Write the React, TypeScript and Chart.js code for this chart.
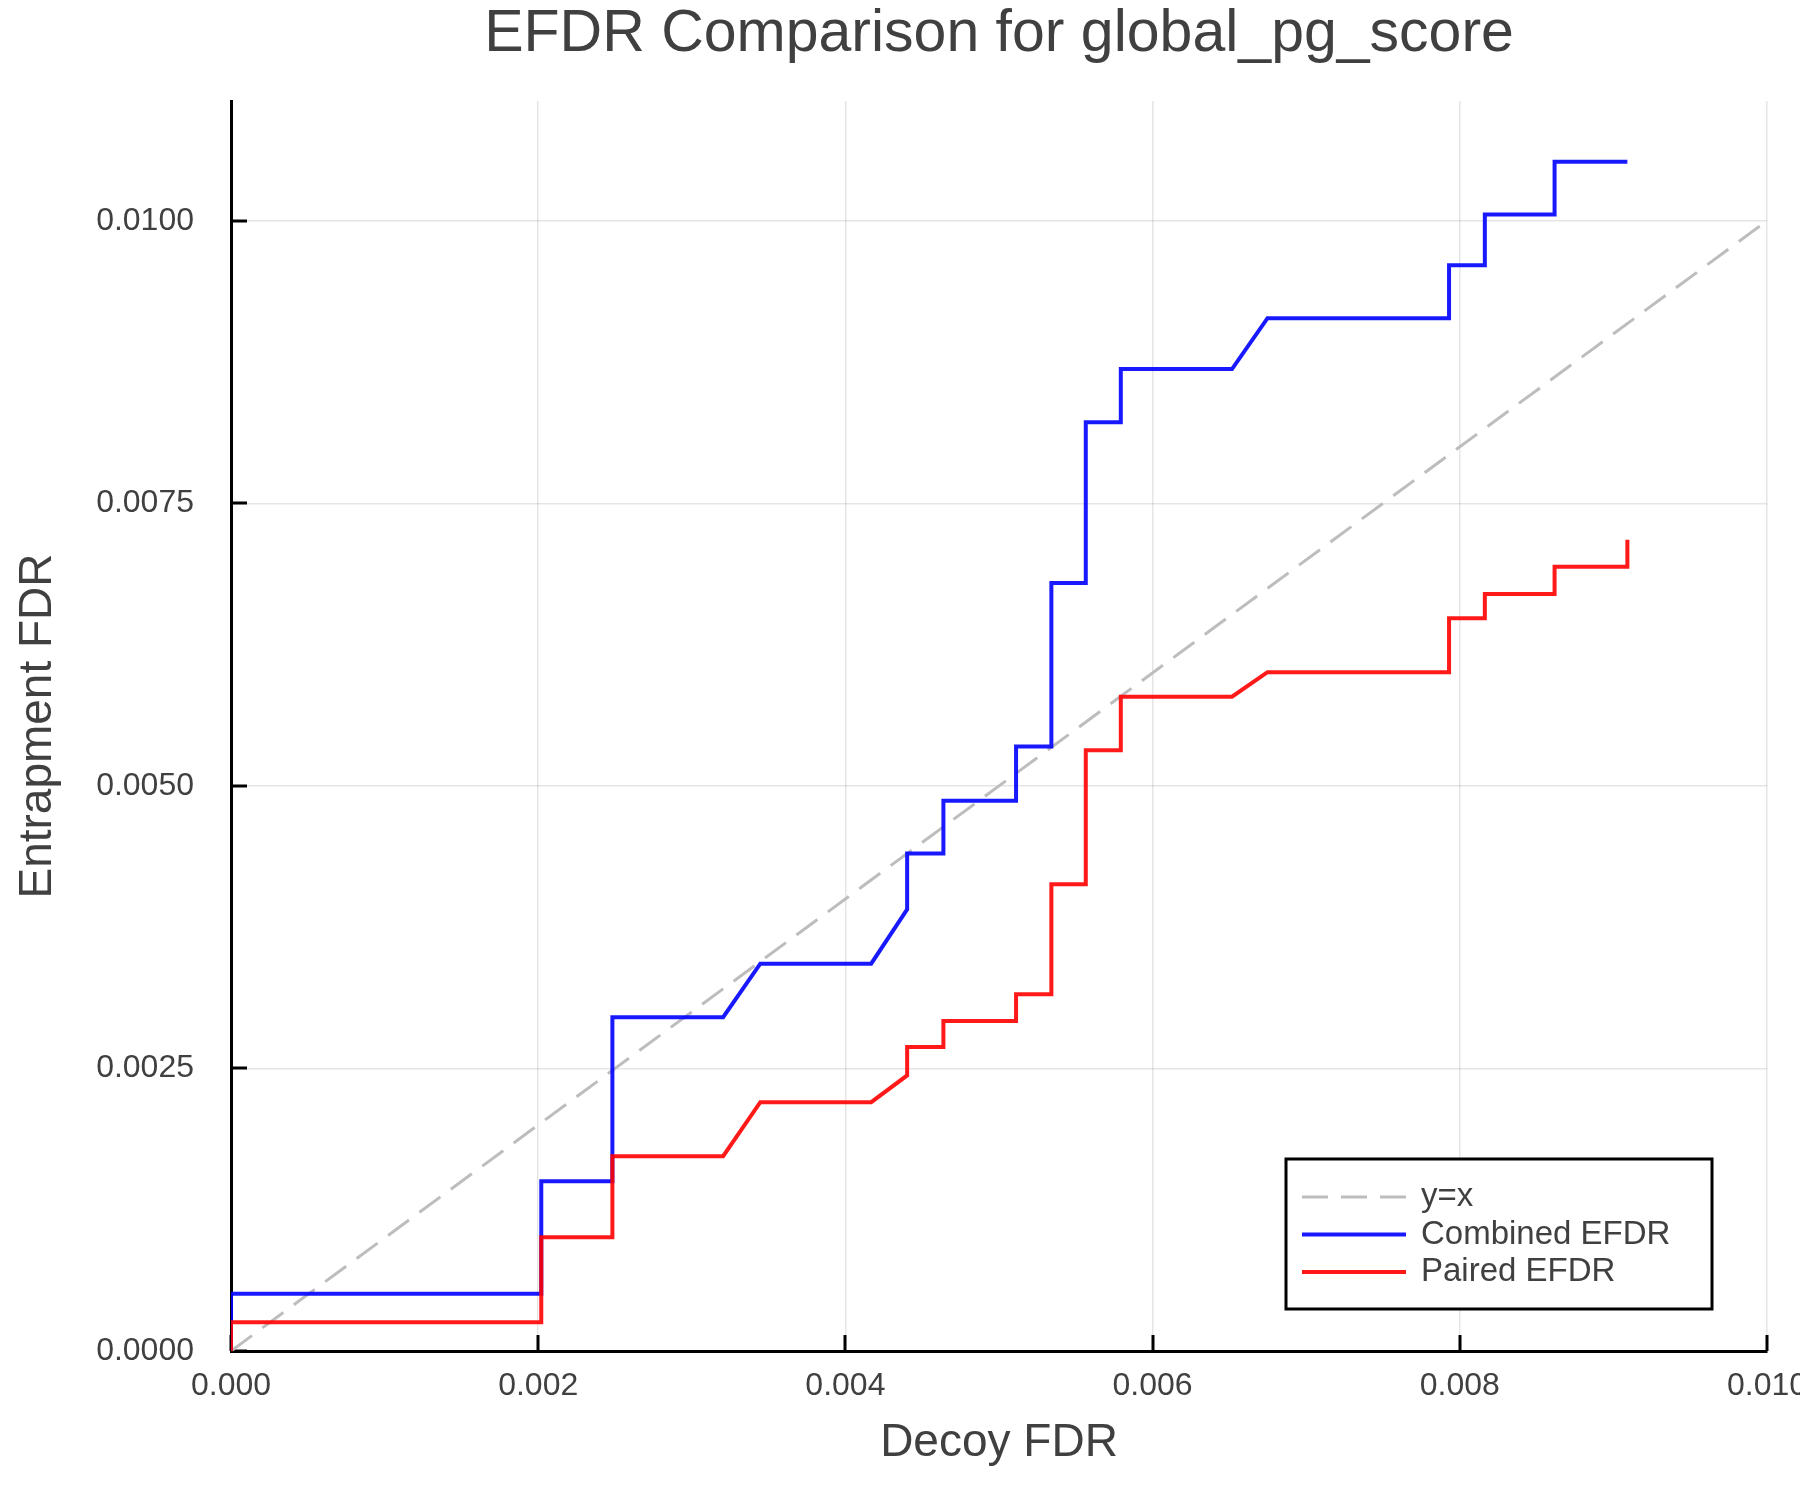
import React, { useEffect, useRef } from "react";
import { Chart, registerables } from "chart.js";

Chart.register(...registerables);

// ---- data ----
const xTickValues = [0, 0.002, 0.004, 0.006, 0.008, 0.01];
const xTickLabels = ["0.000", "0.002", "0.004", "0.006", "0.008", "0.010"];
const yTickValues = [0, 0.0025, 0.005, 0.0075, 0.01];
const yTickLabels = ["0.0000", "0.0025", "0.0050", "0.0075", "0.0100"];

const diagX = [0, 0.01];
const diagY = [0, 0.01];

const combinedX = [
  0, 0, 0.00202, 0.00202, 0.002483, 0.002483, 0.003204, 0.003446, 0.004168, 0.004402,
  0.004402, 0.004638, 0.004638, 0.005111, 0.005111, 0.005341, 0.005341, 0.005565, 0.005565,
  0.005793, 0.005793, 0.006517, 0.006748, 0.00793, 0.00793, 0.008163, 0.008163, 0.008617,
  0.008617, 0.009091,
];
const combinedY = [
  0, 0.000506, 0.000506, 0.001503, 0.001503, 0.002954, 0.002954, 0.003427, 0.003427, 0.003908,
  0.004402, 0.004402, 0.004869, 0.004869, 0.005349, 0.005349, 0.006795, 0.006795, 0.008217,
  0.008217, 0.008688, 0.008688, 0.009138, 0.009138, 0.009607, 0.009607, 0.010056, 0.010056,
  0.010523, 0.010523,
];

const pairedX = [
  0, 0, 0.00202, 0.00202, 0.002483, 0.002483, 0.003204, 0.003446, 0.004168, 0.004402,
  0.004402, 0.004638, 0.004638, 0.005111, 0.005111, 0.005341, 0.005341, 0.005565, 0.005565,
  0.005793, 0.005793, 0.006517, 0.006748, 0.00793, 0.00793, 0.008163, 0.008163, 0.008617,
  0.008617, 0.009091, 0.009091,
];
const pairedY = [
  0, 0.000255, 0.000255, 0.001007, 0.001007, 0.001724, 0.001724, 0.002202, 0.002202, 0.002438,
  0.002689, 0.002689, 0.002919, 0.002919, 0.003157, 0.003157, 0.004129, 0.004129, 0.005315,
  0.005315, 0.005789, 0.005789, 0.006006, 0.006006, 0.006483, 0.006483, 0.006697, 0.006697,
  0.00694, 0.00694, 0.007177,
];

const seriesLabels = ["y=x", "Combined EFDR", "Paired EFDR"];

const FONT = '"Liberation Sans", Arial, Helvetica, sans-serif';
const TEXT = "#404040";

const toPoints = (xs: number[], ys: number[]) => xs.map((x, i) => ({ x, y: ys[i] }));

const innerTicks = {
  id: "innerTicks",
  beforeDatasetsDraw(chart: any) {
    const { ctx, chartArea, scales } = chart;
    ctx.save();
    ctx.strokeStyle = "#000";
    ctx.lineWidth = 3;
    ctx.beginPath();
    xTickValues.forEach((v) => {
      const px = Math.round(scales.x.getPixelForValue(v));
      ctx.moveTo(px, chartArea.bottom);
      ctx.lineTo(px, chartArea.bottom - 16);
    });
    yTickValues.forEach((v) => {
      const py = Math.round(scales.y.getPixelForValue(v));
      ctx.moveTo(chartArea.left, py);
      ctx.lineTo(chartArea.left + 16, py);
    });
    ctx.stroke();
    ctx.restore();
  },
};

const boxLegend = {
  id: "boxLegend",
  afterDraw(chart: any) {
    const { ctx, chartArea } = chart;
    const w = 426;
    const h = 150;
    const right = chartArea.right - 55;
    const bottom = chartArea.bottom - 42;
    const left = right - w;
    const top = bottom - h;
    ctx.save();
    ctx.fillStyle = "#fff";
    ctx.fillRect(left, top, w, h);
    ctx.lineWidth = 3;
    ctx.strokeStyle = "#000";
    ctx.strokeRect(left, top, w, h);
    chart.data.datasets.forEach((ds: any, i: number) => {
      const y = top + 38 + i * 37.5;
      ctx.beginPath();
      ctx.setLineDash(ds.borderDash || []);
      ctx.lineWidth = ds.borderWidth;
      ctx.strokeStyle = ds.borderColor;
      ctx.lineCap = "butt";
      ctx.moveTo(left + 16, y);
      ctx.lineTo(left + 120, y);
      ctx.stroke();
      ctx.setLineDash([]);
      ctx.fillStyle = TEXT;
      ctx.font = `33px ${FONT}`;
      ctx.textBaseline = "middle";
      ctx.textAlign = "left";
      ctx.fillText(ds.label, left + 135, y);
    });
    ctx.restore();
  },
};

export default function App() {
  const ref = useRef<HTMLCanvasElement>(null);

  useEffect(() => {
    document.body.style.margin = "0";
    const canvas = ref.current;
    if (!canvas) return;
    const chart = new Chart(canvas, {
      type: "scatter",
      data: {
        datasets: [
          {
            label: seriesLabels[0],
            data: toPoints(diagX, diagY),
            showLine: true,
            borderColor: "#bdbdbd",
            borderWidth: 3,
            borderDash: [26, 13],
            pointRadius: 0,
            order: 3,
          },
          {
            label: seriesLabels[1],
            data: toPoints(combinedX, combinedY),
            showLine: true,
            borderColor: "rgba(0,0,255,0.9)",
            borderWidth: 4,
            borderJoinStyle: "miter",
            pointRadius: 0,
            order: 2,
          },
          {
            label: seriesLabels[2],
            data: toPoints(pairedX, pairedY),
            showLine: true,
            borderColor: "rgba(255,0,0,0.9)",
            borderWidth: 4,
            borderJoinStyle: "miter",
            pointRadius: 0,
            order: 1,
          },
        ] as any,
      },
      options: {
        animation: false,
        responsive: false,
        devicePixelRatio: 1,
        events: [],
        layout: { padding: { left: 0, right: 33, top: 0, bottom: 0 } },
        plugins: {
          legend: { display: false },
          tooltip: { enabled: false },
          title: {
            display: true,
            text: "EFDR Comparison for global_pg_score",
            fullSize: false,
            color: TEXT,
            font: { family: FONT, size: 59, weight: "normal", lineHeight: 1 },
            padding: { top: 5, bottom: 37 },
          },
        },
        scales: {
          x: {
            type: "linear",
            min: 0,
            max: 0.01,
            afterBuildTicks: (scale: any) => {
              scale.ticks = xTickValues.map((v) => ({ value: v }));
            },
            afterFit: (scale: any) => {
              scale.height = 149;
              scale.paddingLeft = 0;
              scale.paddingRight = 0;
            },
            ticks: {
              callback: (_v: any, i: number) => xTickLabels[i],
              color: TEXT,
              font: { family: FONT, size: 32, lineHeight: 1.2 },
              padding: 16,
              maxRotation: 0,
              minRotation: 0,
              autoSkip: false,
            },
            grid: { color: "rgba(0,0,0,0.1)", lineWidth: 1.5, drawTicks: false },
            border: { display: true, color: "#000", width: 3 },
            title: {
              display: true,
              text: "Decoy FDR",
              color: TEXT,
              font: { family: FONT, size: 46, lineHeight: 1 },
              padding: { top: 0, bottom: 34 },
            },
          },
          y: {
            type: "linear",
            min: 0,
            max: 0.01106,
            afterBuildTicks: (scale: any) => {
              scale.ticks = yTickValues.map((v) => ({ value: v }));
            },
            afterFit: (scale: any) => {
              scale.width = 231;
              scale.paddingTop = 0;
              scale.paddingBottom = 0;
            },
            ticks: {
              callback: (_v: any, i: number) => yTickLabels[i],
              color: TEXT,
              font: { family: FONT, size: 32, lineHeight: 1.2 },
              padding: 37,
              autoSkip: false,
            },
            grid: { color: "rgba(0,0,0,0.1)", lineWidth: 1.5, drawTicks: false },
            border: { display: true, color: "#000", width: 3 },
            title: {
              display: true,
              text: "Entrapment FDR",
              color: TEXT,
              font: { family: FONT, size: 46, lineHeight: 1 },
              padding: { top: 15, bottom: 0 },
            },
          },
        },
      } as any,
      plugins: [innerTicks, boxLegend],
    });
    return () => chart.destroy();
  }, []);

  return (
    <div style={{ width: 1800, height: 1500 }}>
      <canvas
        ref={ref}
        width={1800}
        height={1500}
        style={{ display: "block", width: 1800, height: 1500 }}
      />
    </div>
  );
}
